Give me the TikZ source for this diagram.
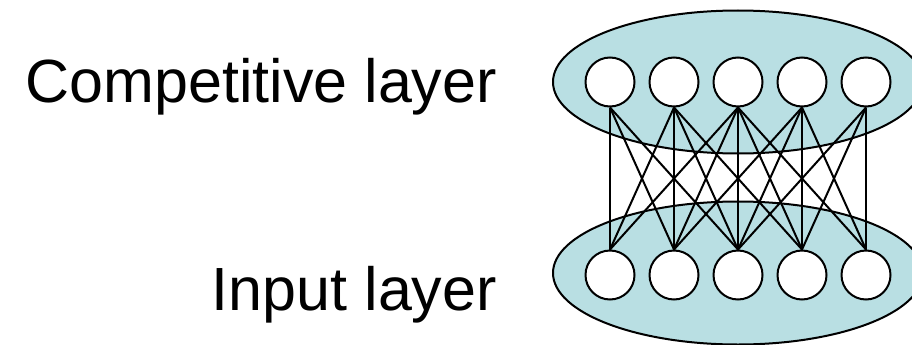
\documentclass[tikz,border=0pt]{standalone}
\usepackage{fontspec}
\setmainfont{Liberation Sans}
\usetikzlibrary{shapes.geometric}
\definecolor{layerfill}{HTML}{B9DFE3}
\pgfdeclarelayer{layers}
\pgfdeclarelayer{links}
\pgfsetlayers{layers,links,main}

\begin{document}
\begin{tikzpicture}[x=1pt,y=-1pt,
    layer/.style={ellipse,draw,fill=layerfill,line width=2pt,
      minimum width=370,minimum height=143,inner sep=0},
    unit/.style={circle,draw,fill=white,line width=2pt,
      minimum size=49,inner sep=0},
    link/.style={line width=2pt},
    lbl/.style={font=\fontsize{61}{73}\selectfont,anchor=base east,inner sep=0}]
  \useasboundingbox (0,0) rectangle (912,345);
  \node[lbl] (complbl) at (497,102) {Competitive layer};
  \node[lbl] (inplbl) at (497,310) {Input layer};
  % units
  \foreach \i in {1,...,5}{
    \node[unit] (c\i) at ({610+(\i-1)*64},82) {};
    \node[unit] (x\i) at ({610+(\i-1)*64},275) {};
  }
  % the two layers, behind everything
  \begin{pgfonlayer}{layers}
    \node[layer] (comp) at (738,82) {};
    \node[layer] (inp) at (738,273) {};
  \end{pgfonlayer}
  % each input feeds the competitive units up to two places away
  \begin{pgfonlayer}{links}
    \foreach \i in {1,...,5}{
      \foreach \j in {1,...,5}{
        \pgfmathtruncatemacro{\d}{abs(\i-\j)}
        \ifnum\d<3
          \draw[link] (c\i.south) -- (x\j.north);
        \fi
      }
    }
  \end{pgfonlayer}
\end{tikzpicture}
\end{document}
